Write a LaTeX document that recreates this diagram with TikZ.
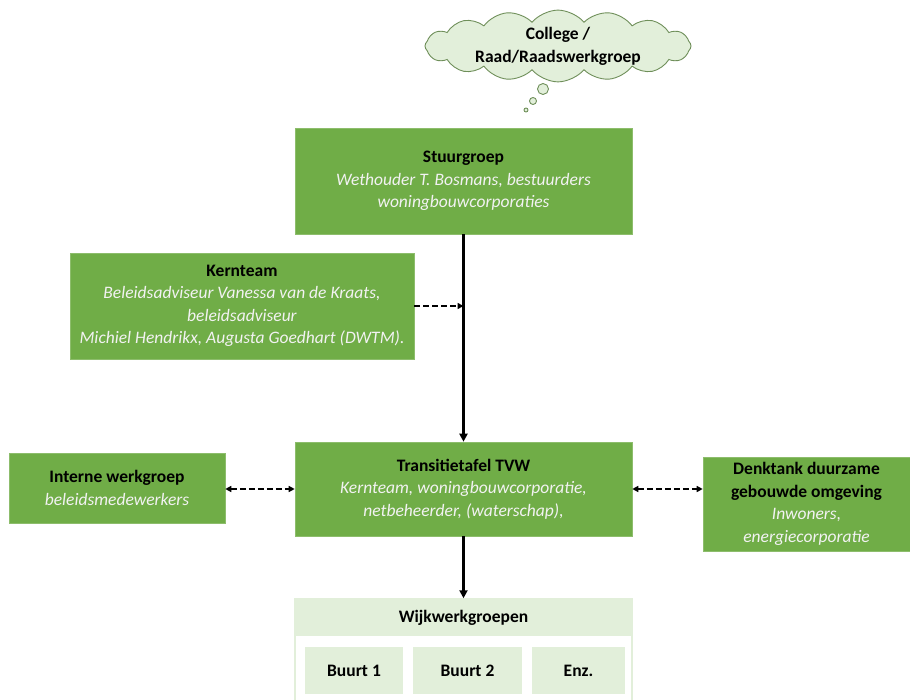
\documentclass[tikz,border=0pt]{standalone}
\usepackage{fontspec}
\setmainfont{Carlito}
\usetikzlibrary{shapes.symbols,arrows.meta}
\definecolor{gmain}{HTML}{70AD47}
\definecolor{glight}{HTML}{E2EFDA}
\definecolor{cloudline}{HTML}{6F8F5A}
\definecolor{subtxt}{HTML}{F2F2F2}
\tikzset{
  x=1pt,y=-1pt,
  gbox/.style={fill=gmain,draw=gmain!80!white,line width=0.6pt,align=center,inner sep=0pt,font=\fontsize{17.5}{22.5}\selectfont},
  lbox/.style={fill=glight,draw=none,align=center,inner sep=0pt,font=\fontsize{17.5}{22.5}\selectfont\bfseries},
  solidarrow/.style={line width=2.4pt,-{Triangle[length=8pt,width=8pt]}},
  dasharrow/.style={line width=2pt,dash pattern=on 6pt off 3pt,-{Triangle[length=6pt,width=6pt]}},
  dashboth/.style={line width=2pt,dash pattern=on 6pt off 3pt,{Triangle[length=6pt,width=6pt]}-{Triangle[length=6pt,width=6pt]}},
}
\newcommand{\sub}[1]{{\itshape\color{subtxt}#1}}
\begin{document}
\begin{tikzpicture}
\useasboundingbox (0,0) rectangle (910,700);
% cloud
\node[cloud,cloud puffs=16,cloud puff arc=100,aspect=4.4,draw=cloudline,fill=glight,line width=0.9pt,minimum width=266,minimum height=64,inner xsep=-2pt,inner ysep=-4pt,align=center,font=\fontsize{17.5}{23}\selectfont\bfseries] (cloud) at (558,46) {College /\\Raad/Raadswerkgroep};
\node[circle,draw=cloudline,fill=glight,line width=0.9pt,minimum size=11,inner sep=0] (b1) at (543,89) {};
\node[circle,draw=cloudline,fill=glight,line width=0.9pt,minimum size=7,inner sep=0] (b2) at (533,101) {};
\node[circle,draw=cloudline,fill=glight,line width=0.9pt,minimum size=4,inner sep=0] (b3) at (526,110) {};
% boxes
\node[gbox,minimum width=337,minimum height=106] (stuur) at (463.5,181) {\textbf{Stuurgroep}\\\sub{Wethouder T. Bosmans, bestuurders}\\\sub{woningbouwcorporaties}};
\node[gbox,minimum width=344,minimum height=106] (kern) at (242,306) {\textbf{Kernteam}\\\sub{Beleidsadviseur Vanessa van de Kraats,}\\\sub{beleidsadviseur}\\\sub{Michiel Hendrikx, Augusta Goedhart (DWTM).}};
\node[gbox,minimum width=337,minimum height=94] (trans) at (463.5,489) {\textbf{Transitietafel TVW}\\\sub{Kernteam, woningbouwcorporatie,}\\\sub{netbeheerder, (waterschap),}};
\node[gbox,minimum width=216,minimum height=70] (intern) at (117,488) {\textbf{Interne werkgroep}\\\sub{beleidsmedewerkers}};
\node[gbox,minimum width=207,minimum height=94] (denk) at (806.5,504) {\textbf{Denktank duurzame}\\\textbf{gebouwde omgeving}\\\sub{Inwoners,}\\\sub{energiecorporatie}};
% wijkwerkgroepen
\node[draw=glight,line width=1.5pt,fill=white,minimum width=337,minimum height=104,inner sep=0] (wijk) at (463.5,651) {};
\node[lbox,minimum width=337,minimum height=38,anchor=north] (wijkh) at (wijk.north) {Wijkwerkgroepen};
\node[lbox,minimum width=98,minimum height=47] (b1box) at (354,670.5) {Buurt 1};
\node[lbox,minimum width=109,minimum height=47] (b2box) at (467.5,670.5) {Buurt 2};
\node[lbox,minimum width=93,minimum height=47] (enz) at (578.5,670.5) {Enz.};
% connectors
\draw[solidarrow] (stuur.south) -- (trans.north);
\coordinate (kj) at (stuur.south |- kern.east);
\draw[dasharrow] (kern.east) -- (kj);
\draw[dashboth] (intern.east |- trans.west) -- (trans.west);
\draw[dashboth] (trans.east) -- (denk.west |- trans.east);
\draw[solidarrow] (trans.south) -- (wijk.north);
\end{tikzpicture}
\end{document}
